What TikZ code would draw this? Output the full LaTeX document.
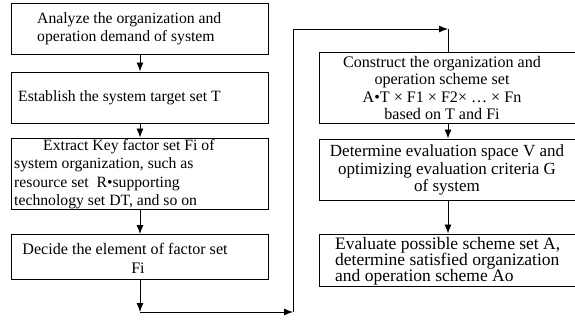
\documentclass[tikz,border=0pt]{standalone}
\usepackage{fontspec}
\setmainfont{Liberation Serif}
\usetikzlibrary{arrows.meta}
\begin{document}
\begin{tikzpicture}[x=1pt,y=-1pt,
  box/.style={draw,line width=0.9pt,rectangle,inner sep=0pt,minimum width=257pt},
  txt/.style={font=\fontsize{15.7}{18.5}\selectfont,inner sep=0pt},
  flow/.style={line width=0.9pt,-{Latex[length=9pt,width=7pt]}},
  link/.style={line width=0.9pt}]
\useasboundingbox (0,0) rectangle (575,320);
% left column
\node[box,minimum height=51pt] (b1) at (139.5,28.5) {};
\node[box,minimum height=51pt] (b2) at (139.5,97.5) {};
\node[box,minimum height=71pt] (b3) at (139.5,173.5) {};
\node[box,minimum height=45pt] (b4) at (139.5,257) {};
% right column
\node[box,minimum height=71pt] (b5) at (447.5,87.5) {};
\node[box,minimum height=61pt] (b6) at (447.5,169.5) {};
\node[box,minimum height=52pt] (b7) at (447.5,260) {};
% texts
\node[txt,align=left,anchor=west] (t1) at (37,29) {Analyze the organization and\\operation demand of system};
\node[txt,anchor=west] (t2) at (18,97.5) {Establish the system target set T};
\node[txt,align=left,anchor=west] (t3) at (14,174) {\hspace*{29pt}Extract Key factor set Fi of\\system organization, such as\\resource set\ \ R•supporting\\technology set DT, and so on};
\node[txt,align=center,font=\fontsize{16.1}{19}\selectfont] (t4) at (125,258) {Decide the element of factor set\\\hspace*{26pt}Fi};
\node[txt,align=center,font=\fontsize{16.1}{17.6}\selectfont] (t5) at (442,88) {Construct the organization and\\operation scheme set\\A•T × F1 × F2× … × Fn\\based on T and Fi};
\node[txt,align=center,font=\fontsize{17}{17.5}\selectfont] (t6) at (447,170) {Determine evaluation space V and\\optimizing evaluation criteria G\\of system};
\node[txt,align=left,anchor=west,font=\fontsize{17.5}{16.2}\selectfont] (t7) at (335,261) {Evaluate possible scheme set A,\\determine satisfied organization\\and operation scheme Ao};
% connectors
\coordinate (c1) at (140,312);
\coordinate (c2) at (293,312);
\coordinate (c3) at (293,29);
\coordinate (c4) at (448,29);
\draw[flow] (b1.south -| c1) -- (b2.north -| c1);
\draw[flow] (b2.south -| c1) -- (b3.north -| c1);
\draw[flow] (b3.south -| c1) -- (b4.north -| c1);
\draw[flow] (b4.south -| c1) -- (c1);
\draw[flow] (c1) -- (c2);
\draw[flow] (c2) -- (c3) -- (c4);
\draw[link] (c4) -- (b5.north -| c4);
\draw[flow] (b5.south -| c4) -- (b6.north -| c4);
\draw[flow] (b6.south -| c4) -- (b7.north -| c4);
\end{tikzpicture}
\end{document}
